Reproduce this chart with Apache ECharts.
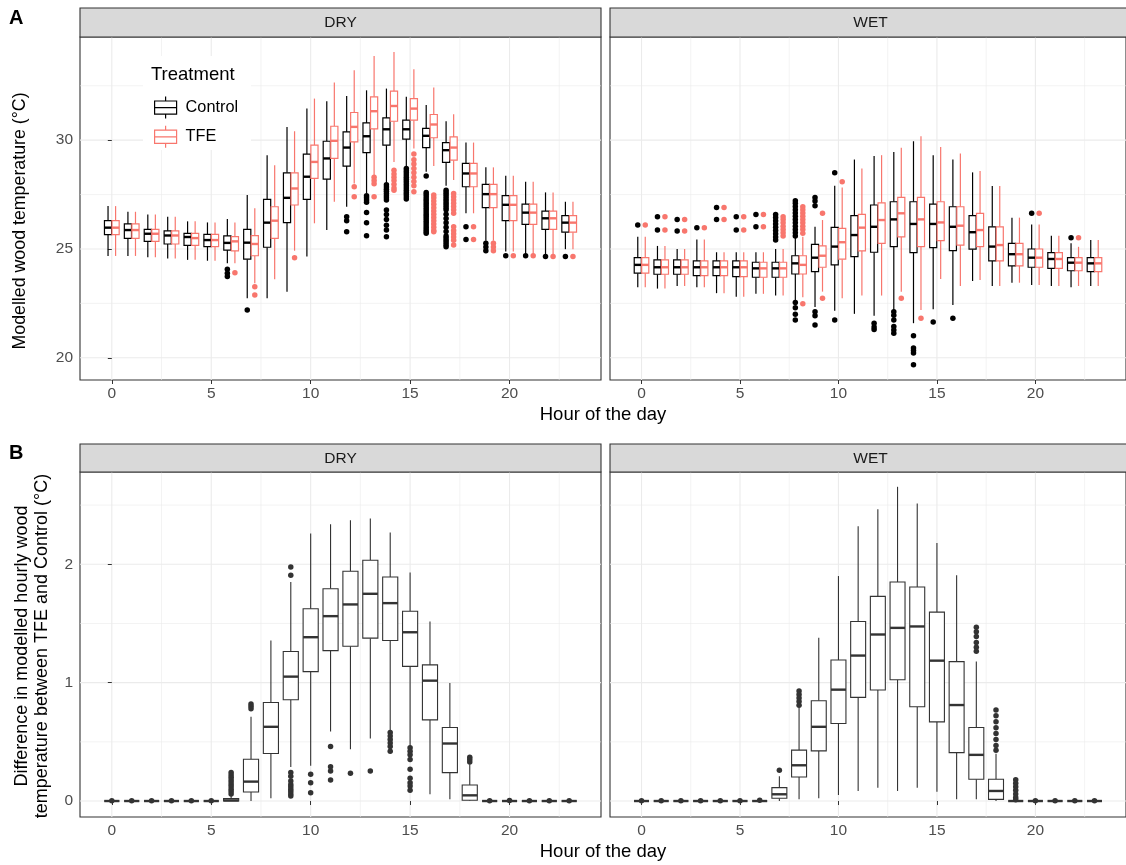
<!DOCTYPE html>
<html>
<head>
<meta charset="utf-8">
<script src="https://cdn.jsdelivr.net/npm/echarts@6/dist/echarts.min.js"></script>
<style>html,body{margin:0;padding:0;background:#fff}#chart{width:1126px;height:865px}</style>
</head>
<body>
<div id="chart"></div>
<script>
// ---------------- DATA ----------------
const hours = [0,1,2,3,4,5,6,7,8,9,10,11,12,13,14,15,16,17,18,19,20,21,22,23];
const xTicks = [0,5,10,15,20];
const xMinor = [2.5,7.5,12.5,17.5,22.5];
const yTicksTemp = [20,25,30];
const yMinorTemp = [22.5,27.5,32.5];
const yTicksDiff = [0,1,2];
const yMinorDiff = [0.5,1.5,2.5];
const panels = ['DRY','WET'];
const treatments = ['Control','TFE'];

// [lower whisker, Q1, median, Q3, upper whisker] per hour
const dryControl = [
 [24.68,25.66,25.98,26.30,26.97],[24.68,25.49,25.87,26.15,26.71],[24.62,25.35,25.70,25.90,26.59],
 [24.56,25.23,25.62,25.83,26.48],[24.50,25.17,25.55,25.72,26.27],[24.46,25.11,25.41,25.67,26.22],
 [24.34,24.95,25.28,25.60,26.38],[22.74,24.53,25.29,25.90,27.48],[22.74,25.08,26.21,27.28,29.31],
 [23.04,26.21,27.35,28.50,30.61],[24.65,27.28,28.32,29.36,31.45],[25.87,28.21,29.16,29.95,31.79],
 [26.94,28.81,29.66,30.38,32.03],[27.55,29.43,30.18,30.79,32.29],[28.01,29.77,30.50,31.02,32.37],
 [28.78,30.05,30.50,30.92,31.99],[28.55,29.66,30.20,30.54,31.61],[27.90,28.98,29.54,29.89,30.87],
 [26.64,27.86,28.47,28.93,29.89],[25.38,26.90,27.52,27.97,28.75],[24.88,26.30,27.03,27.45,28.36],
 [24.76,26.13,26.67,27.06,28.09],[24.68,25.90,26.41,26.74,27.60],[24.99,25.77,26.21,26.53,27.17]
];
const dryTFE = [
 [24.68,25.66,25.98,26.30,26.97],[24.68,25.49,25.87,26.15,26.71],[24.62,25.35,25.70,25.90,26.59],
 [24.56,25.23,25.62,25.83,26.48],[24.50,25.17,25.50,25.72,26.27],[24.46,25.11,25.41,25.67,26.22],
 [24.34,24.91,25.35,25.57,26.22],[23.43,24.69,25.23,25.61,26.87],[23.61,25.49,26.30,26.94,28.85],
 [24.92,27.02,27.78,28.50,30.41],[26.18,28.24,29.00,29.77,31.91],[27.17,29.16,29.97,30.64,32.65],
 [28.01,29.92,30.61,31.27,33.21],[28.35,30.52,31.33,31.99,33.87],[29.00,30.87,31.57,32.25,34.05],
 [29.62,30.92,31.45,31.91,33.26],[28.81,30.11,30.72,31.18,32.42],[28.17,29.08,29.66,30.15,31.19],
 [26.64,27.86,28.47,28.93,29.89],[25.38,26.90,27.52,27.97,28.75],[24.88,26.30,27.03,27.45,28.36],
 [24.76,26.13,26.67,27.06,28.09],[24.68,25.90,26.41,26.74,27.60],[24.99,25.77,26.21,26.53,27.17]
];
const wetControl = [
 [23.24,23.89,24.27,24.60,25.56],[23.18,23.84,24.16,24.50,25.14],[23.30,23.84,24.16,24.50,25.00],
 [23.24,23.78,24.16,24.45,25.44],[22.97,23.78,24.16,24.45,24.85],[22.81,23.73,24.16,24.45,24.85],
 [22.94,23.70,24.11,24.39,24.85],[22.86,23.70,24.11,24.39,25.00],[22.66,23.85,24.34,24.69,25.56],
 [22.33,23.96,24.60,25.21,26.02],[22.16,24.27,25.11,25.99,27.90],[22.02,24.65,25.64,26.53,29.11],
 [21.93,24.85,26.02,27.02,29.27],[22.20,25.11,26.36,27.17,29.46],[21.59,24.83,26.15,27.17,29.95],
 [22.23,25.06,26.15,27.06,29.31],[22.43,24.92,26.02,26.94,29.11],[23.53,24.99,25.77,26.53,28.52],
 [23.30,24.45,25.11,26.02,27.89],[23.45,24.22,24.76,25.26,26.44],[23.35,24.16,24.60,25.00,26.13],
 [23.30,24.11,24.54,24.83,25.61],[23.24,24.00,24.37,24.60,25.26],[23.30,23.96,24.34,24.60,25.41]
];
const wetTFE = [
 [23.24,23.89,24.27,24.60,25.56],[23.18,23.84,24.16,24.50,25.14],[23.30,23.84,24.16,24.50,25.00],
 [23.24,23.78,24.16,24.45,25.44],[22.97,23.78,24.16,24.45,24.85],[22.81,23.73,24.16,24.45,24.85],
 [22.94,23.70,24.11,24.39,24.85],[22.86,23.70,24.11,24.39,25.00],[22.78,23.85,24.27,24.69,25.56],
 [23.04,24.16,24.69,25.14,26.33],[22.74,24.53,25.31,25.95,27.83],[22.86,24.91,25.98,26.59,28.70],
 [22.86,25.26,26.33,27.12,29.31],[23.04,25.56,26.64,27.37,29.65],[22.20,25.11,26.36,27.37,30.18],
 [23.62,25.38,26.22,27.17,29.69],[23.30,25.18,26.07,26.94,29.39],[23.58,25.11,25.87,26.64,28.58],
 [23.30,24.45,25.18,26.02,27.89],[23.45,24.22,24.76,25.26,26.44],[23.35,24.16,24.60,25.00,26.13],
 [23.30,24.11,24.54,24.83,25.61],[23.30,24.00,24.37,24.60,25.10],[23.30,23.96,24.34,24.60,25.41]
];
const dryDiff = [
 [0,0,0,0,0],[0,0,0,0,0],[0,0,0,0,0],[0,0,0,0,0],[0,0,0,0,0],[0,0,0,0,0],
 [0,0,0.005,0.02,0.05],[0,0.076,0.164,0.353,0.712],[0.023,0.401,0.627,0.833,1.356],
 [0.288,0.856,1.051,1.263,1.85],[0.297,1.093,1.384,1.624,2.26],[0.587,1.271,1.562,1.794,2.339],
 [0.438,1.308,1.661,1.941,2.373],[0.528,1.376,1.751,2.034,2.387],[0.579,1.356,1.672,1.893,2.269],
 [0.452,1.138,1.426,1.604,1.93],[0.057,0.686,1.017,1.15,1.517],[0.014,0.24,0.486,0.621,0.997],
 [0,0.006,0.048,0.136,0.31],[0,0,0,0,0],[0,0,0,0,0],[0,0,0,0,0],[0,0,0,0,0],[0,0,0,0,0]
];
const wetDiff = [
 [0,0,0,0,0],[0,0,0,0,0],[0,0,0,0,0],[0,0,0,0,0],[0,0,0,0,0],[0,0,0,0,0],[0,0,0,0,0],
 [0,0.023,0.057,0.113,0.21],[0.014,0.203,0.302,0.43,0.79],[0.023,0.424,0.627,0.847,1.379],
 [0.051,0.655,0.941,1.192,1.901],[0.085,0.876,1.229,1.517,2.322],[0.113,0.938,1.407,1.729,2.466],
 [0.085,1.025,1.463,1.85,2.655],[0.113,0.797,1.475,1.808,2.514],[0.079,0.669,1.186,1.596,2.181],
 [0.014,0.409,0.811,1.178,1.907],[0.014,0.184,0.39,0.621,1.178],[0,0.014,0.085,0.184,0.40],
 [0,0,0,0,0],[0,0,0,0,0],[0,0,0,0,0],[0,0,0,0,0],[0,0,0,0,0]
];

// outliers: [hour, value]
const dryControlOut = [
 [6,24.07],[6,23.89],[6,23.73],[7,22.2],
 [12,26.48],[12,26.30],[12,25.79],
 [13,27.45],[13,27.35],[13,27.25],[13,27.15],[13,26.68],[13,26.21],[13,25.61],
 [14,27.95],[14,27.85],[14,27.75],[14,27.65],[14,27.55],[14,27.45],[14,27.35],[14,27.25],[14,26.79],[14,26.58],[14,26.35],[14,26.09],[14,25.87],[14,25.56],
 [15,28.7],[15,28.6],[15,28.5],[15,28.4],[15,28.3],[15,28.2],[15,28.1],[15,28.0],[15,27.9],[15,27.8],[15,27.7],[15,27.6],[15,27.5],[15,27.4],[15,27.3],
 [16,28.35],[16,27.6],[16,27.5],[16,27.4],[16,27.3],[16,27.2],[16,27.1],[16,27.0],[16,26.9],[16,26.8],[16,26.7],[16,26.6],[16,26.5],[16,26.4],[16,26.3],[16,26.2],[16,26.1],[16,26.0],[16,25.9],[16,25.8],[16,25.72],
 [17,27.7],[17,27.6],[17,27.5],[17,27.4],[17,27.3],[17,27.2],[17,27.1],[17,27.0],[17,26.9],[17,26.8],[17,26.6],[17,26.4],[17,26.2],[17,26.0],[17,25.8],[17,25.6],[17,25.5],[17,25.4],[17,25.3],[17,25.2],[17,25.1],
 [18,26.02],[18,25.44],[19,25.26],[19,25.09],[19,24.92],[20,24.69],[21,24.69],[22,24.65],[23,24.65]
];
const dryTFEOut = [
 [6,23.91],[7,23.27],[7,22.89],[9,24.60],[12,27.86],[12,27.40],
 [13,28.3],[13,28.15],[13,28.0],[13,27.4],
 [14,28.62],[14,28.45],[14,28.3],[14,28.15],[14,27.97],[14,27.8],[14,27.7],
 [15,29.36],[15,29.1],[15,28.9],[15,28.7],[15,28.5],[15,28.3],[15,28.1],[15,27.9],[15,27.63],
 [16,27.48],[16,27.35],[16,27.2],[16,27.05],[16,26.9],[16,26.75],[16,26.6],[16,26.45],[16,26.3],[16,26.15],[16,26.0],[16,25.85],[16,25.79],
 [17,27.55],[17,27.4],[17,27.25],[17,27.1],[17,26.95],[17,26.8],[17,26.64],[17,26.02],[17,25.85],[17,25.7],[17,25.55],[17,25.4],[17,25.18],
 [18,26.02],[18,25.44],[19,25.26],[19,25.09],[19,24.92],[20,24.69],[21,24.69],[22,24.65],[23,24.65]
];
const wetControlOut = [
 [0,26.10],[1,26.48],[1,25.87],[2,26.36],[2,25.83],[3,25.98],[4,26.91],[4,26.36],[5,26.48],[5,25.87],[6,26.59],[6,26.02],
 [7,26.59],[7,26.45],[7,26.3],[7,26.15],[7,26.0],[7,25.85],[7,25.7],[7,25.55],[7,25.41],
 [8,27.22],[8,27.1],[8,26.95],[8,26.8],[8,26.65],[8,26.5],[8,26.35],[8,26.2],[8,26.05],[8,25.9],[8,25.75],[8,25.6],
 [8,22.54],[8,22.3],[8,22.0],[8,21.74],
 [9,27.37],[9,27.2],[9,26.99],[9,22.12],[9,21.93],[9,21.51],
 [10,28.50],[10,21.74],[12,21.59],[12,21.42],[12,21.3],
 [13,22.12],[13,21.95],[13,21.74],[13,21.44],[13,21.28],[13,21.13],
 [14,21.01],[14,20.45],[14,20.33],[14,20.22],[14,19.68],[15,21.64],[16,21.82],[20,26.64],[22,25.52]
];
const wetTFEOut = [
 [0,26.10],[1,26.48],[1,25.87],[2,26.36],[2,25.83],[3,25.98],[4,26.91],[4,26.36],[5,26.48],[5,25.87],[6,26.59],[6,26.02],
 [7,26.48],[7,26.35],[7,26.2],[7,26.05],[7,25.9],[7,25.75],[7,25.6],
 [8,26.94],[8,26.8],[8,26.65],[8,26.5],[8,26.35],[8,26.2],[8,26.05],[8,25.9],[8,25.72],[8,22.48],
 [9,26.64],[9,22.74],[10,28.09],[13,22.74],[14,21.82],[20,26.64],[22,25.52]
];
const dryDiffOut = [
 [0,0.003],[1,0.003],[2,0.003],[3,0.003],[4,0.003],[5,0.003],
 [6,0.06],[6,0.08],[6,0.10],[6,0.12],[6,0.14],[6,0.16],[6,0.18],[6,0.20],[6,0.22],[6,0.24],
 [7,0.82],[7,0.80],[7,0.78],
 [9,1.977],[9,1.907],[9,0.24],[9,0.21],[9,0.17],[9,0.14],[9,0.12],[9,0.10],[9,0.08],[9,0.06],[9,0.042],
 [10,0.226],[10,0.155],[10,0.07],[11,0.46],[11,0.29],[11,0.254],[11,0.178],[12,0.235],[13,0.254],
 [14,0.58],[14,0.55],[14,0.52],[14,0.49],[14,0.46],[14,0.42],
 [15,0.45],[15,0.42],[15,0.39],[15,0.35],[15,0.268],[15,0.192],[15,0.155],[15,0.127],[15,0.09],
 [18,0.37],[18,0.35],[18,0.33],[19,0.003],[20,0.004],[21,0.003],[22,0.003],[23,0.003]
];
const wetDiffOut = [
 [0,0.003],[1,0.003],[2,0.003],[3,0.003],[4,0.003],[5,0.003],[6,0.006],[7,0.26],
 [8,0.93],[8,0.90],[8,0.87],[8,0.84],[8,0.81],
 [17,1.469],[17,1.43],[17,1.39],[17,1.34],[17,1.30],[17,1.265],
 [18,0.77],[18,0.72],[18,0.67],[18,0.62],[18,0.57],[18,0.52],[18,0.47],[18,0.43],
 [19,0.18],[19,0.15],[19,0.12],[19,0.09],[19,0.06],[19,0.03],[19,0.01],
 [20,0.003],[21,0.003],[22,0.003],[23,0.003]
];

// ---------------- CHART ----------------
const FONT = '"Liberation Sans", Arial, sans-serif';
const TFE_COL = '#F8766D';
const XR = [-1.6, 24.6];
const YR_T = [18.98, 34.74];
const YR_B = [-0.135, 2.78];

const chart = echarts.init(document.getElementById('chart'), null, {renderer: 'canvas'});

function boxData(arr) { return hours.map((h, i) => [h].concat(arr[i])); }

function boxRender(dx, halfW, color, lw, mlw) {
  return function (params, api) {
    const h = api.value(0) + dx;
    const lo = api.value(1), q1 = api.value(2), md = api.value(3), q3 = api.value(4), hi = api.value(5);
    const l = api.coord([h - halfW, q3]);
    const r = api.coord([h + halfW, q1]);
    const c = api.coord([h, md]);
    const yLo = api.coord([h, lo])[1], yHi = api.coord([h, hi])[1];
    const cx = c[0];
    return { type: 'group', children: [
      { type: 'line', shape: { x1: cx, y1: yHi, x2: cx, y2: l[1] }, style: { stroke: color, lineWidth: lw } },
      { type: 'line', shape: { x1: cx, y1: r[1], x2: cx, y2: yLo }, style: { stroke: color, lineWidth: lw } },
      { type: 'rect', shape: { x: l[0], y: l[1], width: r[0] - l[0], height: r[1] - l[1] }, style: { fill: '#fff', stroke: color, lineWidth: lw } },
      { type: 'line', shape: { x1: l[0], y1: c[1], x2: r[0], y2: c[1] }, style: { stroke: color, lineWidth: mlw } }
    ]};
  };
}

function gridLineData(yMaj, yMin) {
  const d = [];
  xTicks.forEach(v => d.push([0, v, 1]));
  xMinor.forEach(v => d.push([0, v, 0]));
  yMaj.forEach(v => d.push([1, v, 1]));
  yMin.forEach(v => d.push([1, v, 0]));
  return d;
}
function gridRender(yr) {
  return function (params, api) {
    const o = api.value(0), v = api.value(1), major = api.value(2);
    let p1, p2;
    if (o === 0) { p1 = api.coord([v, yr[0]]); p2 = api.coord([v, yr[1]]); }
    else { p1 = api.coord([XR[0], v]); p2 = api.coord([XR[1], v]); }
    return { type: 'line', shape: { x1: p1[0], y1: p1[1], x2: p2[0], y2: p2[1] },
      style: { stroke: '#EBEBEB', lineWidth: major ? 1.1 : 0.6 } };
  };
}

const gridsPos = [
  { left: 80, top: 37, width: 521, height: 343 },
  { left: 610, top: 37, width: 521, height: 343 },
  { left: 80, top: 472, width: 521, height: 345 },
  { left: 610, top: 472, width: 521, height: 345 }
];

const xAxes = gridsPos.map((g, i) => ({
  type: 'value', gridIndex: i, min: XR[0], max: XR[1],
  axisLine: { show: false },
  axisTick: { show: true, customValues: xTicks, length: 4, lineStyle: { color: '#333', width: 1 } },
  axisLabel: { customValues: xTicks, color: '#4D4D4D', fontSize: 15.5, fontFamily: FONT, margin: 6 },
  splitLine: { show: false }, minorTick: { show: false }, minorSplitLine: { show: false }
}));
const yAxes = gridsPos.map((g, i) => {
  const top = i < 2;
  const yr = top ? YR_T : YR_B;
  const ticks = top ? yTicksTemp : yTicksDiff;
  const showLab = (i % 2 === 0);
  return {
    type: 'value', gridIndex: i, min: yr[0], max: yr[1],
    axisLine: { show: false },
    axisTick: { show: showLab, customValues: ticks, length: 4, lineStyle: { color: '#333', width: 1 } },
    axisLabel: { show: showLab, customValues: ticks, color: '#4D4D4D', fontSize: 15.5, fontFamily: FONT, margin: 7 },
    splitLine: { show: false }
  };
});

const series = [];
// gridlines
[0,1,2,3].forEach(i => {
  const top = i < 2;
  series.push({
    type: 'custom', xAxisIndex: i, yAxisIndex: i, z: 0, silent: true,
    renderItem: gridRender(top ? YR_T : YR_B),
    data: top ? gridLineData(yTicksTemp, yMinorTemp) : gridLineData(yTicksDiff, yMinorDiff),
    encode: { x: 1, y: 1 }, clip: true
  });
});

const DX = 0.19, HW = 0.18;
const topSets = [
  { gi: 0, data: dryControl, out: dryControlOut, name: 'Control', col: '#000000', dx: -DX },
  { gi: 0, data: dryTFE, out: dryTFEOut, name: 'TFE', col: TFE_COL, dx: DX },
  { gi: 1, data: wetControl, out: wetControlOut, name: 'Control', col: '#000000', dx: -DX },
  { gi: 1, data: wetTFE, out: wetTFEOut, name: 'TFE', col: TFE_COL, dx: DX }
];
topSets.forEach(s => {
  series.push({
    type: 'custom', name: s.name, xAxisIndex: s.gi, yAxisIndex: s.gi, z: 3, silent: true,
    itemStyle: { color: s.col },
    renderItem: boxRender(s.dx, HW, s.col, 1.2, 2.4),
    data: boxData(s.data), encode: { x: 0, y: [1,2,3,4,5] }
  });
  series.push({
    type: 'scatter', name: s.name, xAxisIndex: s.gi, yAxisIndex: s.gi, z: 4, silent: true,
    symbol: 'circle', symbolSize: 5.5, itemStyle: { color: s.col, opacity: 1 },
    data: s.out.map(p => [p[0] + s.dx, p[1]])
  });
});
const botSets = [
  { gi: 2, data: dryDiff, out: dryDiffOut },
  { gi: 3, data: wetDiff, out: wetDiffOut }
];
botSets.forEach(s => {
  series.push({
    type: 'custom', name: 'diff', xAxisIndex: s.gi, yAxisIndex: s.gi, z: 3, silent: true,
    renderItem: boxRender(0, 0.38, '#333333', 1.1, 2.4),
    data: boxData(s.data), encode: { x: 0, y: [1,2,3,4,5] }
  });
  series.push({
    type: 'scatter', name: 'diffOut', xAxisIndex: s.gi, yAxisIndex: s.gi, z: 4, silent: true,
    symbol: 'circle', symbolSize: 5.5, itemStyle: { color: '#333333', opacity: 1 },
    data: s.out.map(p => [p[0], p[1]])
  });
});

const boxIcon = 'path://M10,0L10,4M0,4L20,4L20,16L0,16ZM0,10L20,10M10,16L10,20';

const graphics = [
  // legend background
  { type: 'rect', z: 1, shape: { x: 143, y: 56, width: 108, height: 94 }, style: { fill: '#ffffff' } },
  { type: 'text', z: 5, x: 151, y: 75, style: { text: 'Treatment', fontSize: 18.5, fontFamily: FONT, fill: '#000', align: 'left', verticalAlign: 'middle' } },
  // panel labels
  { type: 'text', x: 9, y: 18, style: { text: 'A', fontSize: 20, fontWeight: 'bold', fontFamily: FONT, fill: '#000', align: 'left', verticalAlign: 'middle' } },
  { type: 'text', x: 9, y: 453, style: { text: 'B', fontSize: 20, fontWeight: 'bold', fontFamily: FONT, fill: '#000', align: 'left', verticalAlign: 'middle' } },
  // axis titles
  { type: 'text', x: 603, y: 415, style: { text: 'Hour of the day', fontSize: 18.5, fontFamily: FONT, fill: '#000', align: 'center', verticalAlign: 'middle' } },
  { type: 'text', x: 603, y: 852, style: { text: 'Hour of the day', fontSize: 18.5, fontFamily: FONT, fill: '#000', align: 'center', verticalAlign: 'middle' } },
  { type: 'text', x: 20, y: 221, rotation: Math.PI / 2, style: { text: 'Modelled wood temperature (°C)', fontSize: 17.8, fontFamily: FONT, fill: '#000', align: 'center', verticalAlign: 'middle' } },
  { type: 'text', x: 32, y: 646, rotation: Math.PI / 2, style: { text: 'Difference in modelled hourly wood\ntemperature between TFE and Control (°C)', fontSize: 18, lineHeight: 20, fontFamily: FONT, fill: '#000', align: 'center', verticalAlign: 'middle' } }
];
// strips
gridsPos.forEach((g, i) => {
  const top = i < 2;
  const sy = top ? 8 : 444;
  const sh = top ? 29 : 28;
  graphics.push({ type: 'rect', z: 2, shape: { x: g.left, y: sy, width: g.width, height: sh },
    style: { fill: '#D9D9D9', stroke: '#333333', lineWidth: 1.1 } });
  graphics.push({ type: 'text', z: 3, x: g.left + g.width / 2, y: sy + sh / 2 + 0.5,
    style: { text: panels[i % 2], fontSize: 15.5, fontFamily: FONT, fill: '#1A1A1A', align: 'center', verticalAlign: 'middle' } });
});

chart.setOption({
  backgroundColor: '#ffffff',
  animation: false,
  grid: gridsPos.map(g => Object.assign({ show: true, borderColor: '#333333', borderWidth: 1.1, backgroundColor: 'transparent', containLabel: false }, g)),
  xAxis: xAxes,
  yAxis: yAxes,
  legend: {
    show: true, orient: 'vertical', left: 149, top: 91, itemWidth: 22, itemHeight: 22, itemGap: 6,
    selectedMode: false, z: 5,
    textStyle: { fontSize: 16.3, fontFamily: FONT, color: '#000', padding: [0, 0, 0, 4] },
    data: treatments.map((t, i) => ({ name: t, icon: boxIcon,
      itemStyle: { color: '#ffffff', borderColor: i === 0 ? '#000000' : TFE_COL, borderWidth: 1.2 } }))
  },
  graphic: { elements: graphics },
  series: series
});
</script>
</body>
</html>
